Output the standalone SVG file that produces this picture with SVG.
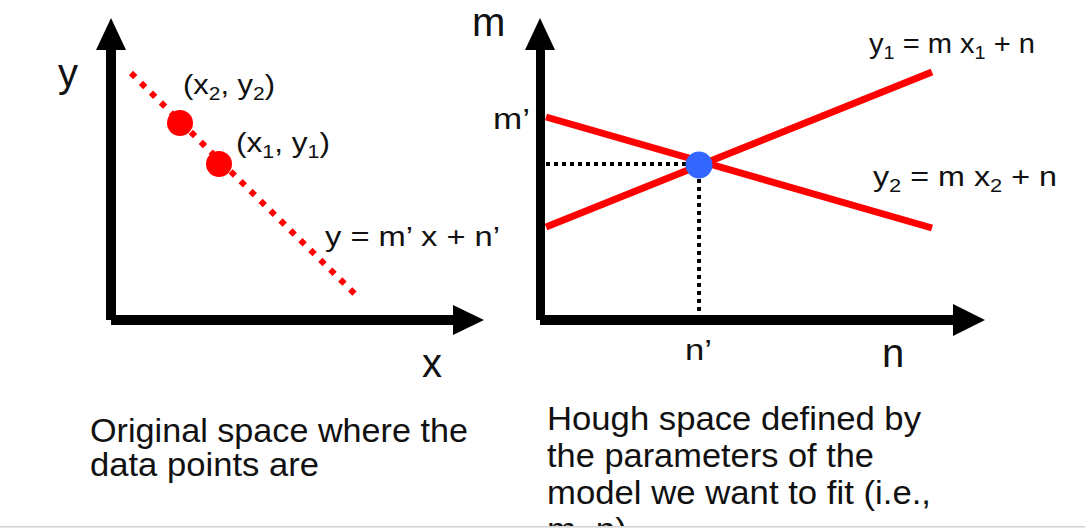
<svg xmlns="http://www.w3.org/2000/svg" width="1085" height="528" viewBox="0 0 1085 528">
<style>
text{font-family:"Liberation Sans","DejaVu Sans",sans-serif;fill:#111}
.axis{fill:#000}
.lbl{font-size:28px}
.big{font-size:40px}
.cap{font-size:33px}
.sub{font-size:19px}
</style>
<rect width="1085" height="528" fill="#fff"/>
<g id="left-plot">
  <g id="left-axes" class="axis">
    <rect x="106" y="46" width="10" height="274"/>
    <rect x="111" y="315" width="344" height="10"/>
    <polygon points="96,50 111,18 126,50"/>
    <polygon points="453,305 484,320 453,335"/>
  </g>
  <text id="y-label" class="big" x="58" y="87">y</text>
  <text id="x-label" class="big" x="422" y="377">x</text>
  <line id="fit-line" x1="131" y1="73" x2="359" y2="298" stroke="#f00" stroke-width="6" stroke-dasharray="6 8"/>
  <circle id="p2" cx="180" cy="123" r="13" fill="#f00"/>
  <circle id="p1" cx="219" cy="164" r="13" fill="#f00"/>
  <text id="p2-label" class="lbl" x="183" y="94" textLength="92" lengthAdjust="spacingAndGlyphs">(x<tspan class="sub" dy="6">2</tspan><tspan dy="-6">, y</tspan><tspan class="sub" dy="6">2</tspan><tspan dy="-6">)</tspan></text>
  <text id="p1-label" class="lbl" x="236" y="152" textLength="94" lengthAdjust="spacingAndGlyphs">(x<tspan class="sub" dy="6">1</tspan><tspan dy="-6">, y</tspan><tspan class="sub" dy="6">1</tspan><tspan dy="-6">)</tspan></text>
  <text id="line-label" class="lbl" x="325" y="246" textLength="175" lengthAdjust="spacingAndGlyphs">y = m’ x + n’</text>
</g>
<g id="right-plot">
  <g id="right-axes" class="axis">
    <rect x="536" y="46" width="9" height="274"/>
    <rect x="540" y="315" width="415" height="10"/>
    <polygon points="525,50 540,18 555,50"/>
    <polygon points="953,304 985,320 953,336"/>
  </g>
  <text id="m-label" class="big" x="472" y="36">m</text>
  <text id="n-label" class="big" x="882" y="367">n</text>
  <text id="mprime" x="493" y="129" font-size="30" textLength="37" lengthAdjust="spacingAndGlyphs">m’</text>
  <text id="nprime" x="685" y="360" font-size="30" textLength="27" lengthAdjust="spacingAndGlyphs">n’</text>
  <g id="connectors">
    <line x1="546" y1="227" x2="932" y2="72" stroke="#f00" stroke-width="7"/>
    <line x1="546" y1="117" x2="932" y2="228" stroke="#f00" stroke-width="7"/>
    <line x1="546" y1="164" x2="688" y2="164" stroke="#000" stroke-width="4" stroke-dasharray="4 4"/>
    <line x1="699" y1="179" x2="699" y2="315" stroke="#000" stroke-width="4" stroke-dasharray="4 4"/>
  </g>
  <circle id="intersection" cx="699" cy="165" r="13.5" fill="#3366ff"/>
  <text id="eq1" class="lbl" x="869" y="53" textLength="166" lengthAdjust="spacingAndGlyphs">y<tspan class="sub" dy="6">1</tspan><tspan dy="-6"> = m x</tspan><tspan class="sub" dy="6">1</tspan><tspan dy="-6"> + n</tspan></text>
  <text id="eq2" class="lbl" x="873" y="186" textLength="184" lengthAdjust="spacingAndGlyphs">y<tspan class="sub" dy="6">2</tspan><tspan dy="-6"> = m x</tspan><tspan class="sub" dy="6">2</tspan><tspan dy="-6"> + n</tspan></text>
</g>
<g id="captions">
  <text class="cap" x="90" y="442" textLength="378" lengthAdjust="spacingAndGlyphs">Original space where the</text>
  <text class="cap" x="90" y="476" textLength="229" lengthAdjust="spacingAndGlyphs">data points are</text>
  <text class="cap" x="547" y="430" textLength="374" lengthAdjust="spacingAndGlyphs">Hough space defined by</text>
  <text class="cap" x="547" y="467" textLength="327" lengthAdjust="spacingAndGlyphs">the parameters of the</text>
  <text class="cap" x="547" y="504" textLength="384" lengthAdjust="spacingAndGlyphs">model we want to fit (i.e.,</text>
  <text class="cap" x="547" y="541" textLength="80" lengthAdjust="spacingAndGlyphs">m, n)</text>
</g>
<rect x="0" y="526" width="1085" height="2" fill="#e6e6e6"/>
<line x1="0" y1="526.5" x2="1085" y2="526.5" stroke="#d4d4d4" stroke-width="1"/>
</svg>
